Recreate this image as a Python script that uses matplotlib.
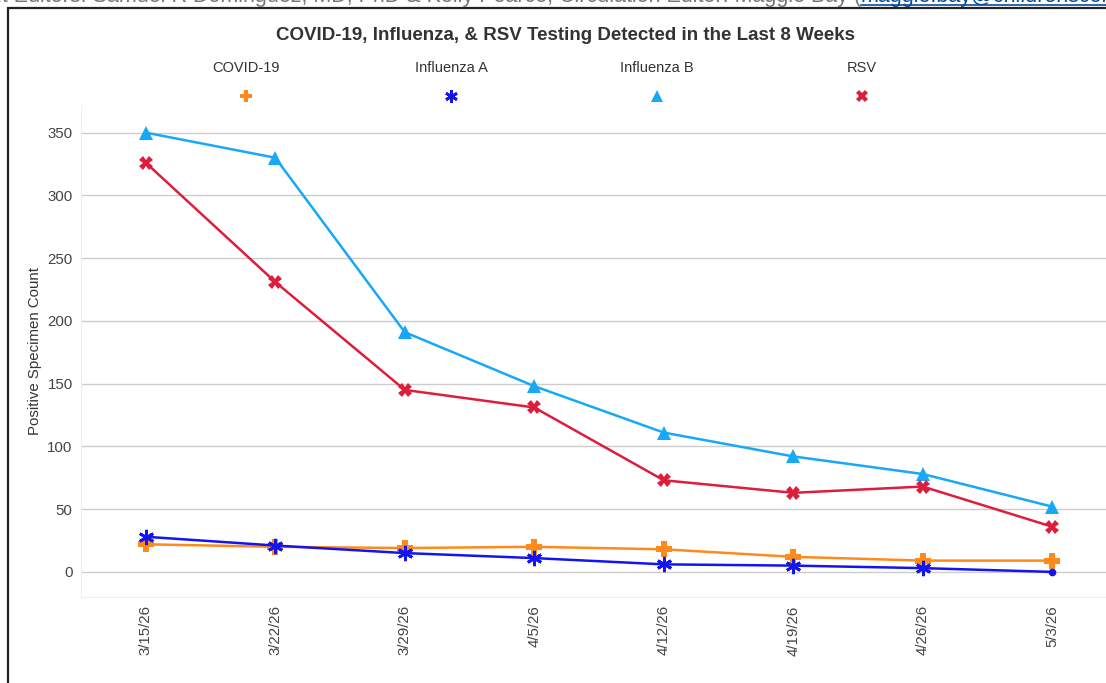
import matplotlib
matplotlib.use("Agg")
import matplotlib.pyplot as plt
from matplotlib.patches import Rectangle

# data
weeks = ["3/15/26", "3/22/26", "3/29/26", "4/5/26", "4/12/26", "4/19/26", "4/26/26", "5/3/26"]
covid = [22, 20, 19, 20, 18, 12, 9, 9]
flu_a = [28, 21, 15, 11, 6, 5, 3, 0]
flu_b = [350, 330, 191, 148, 111, 92, 78, 52]
rsv = [326, 231, 145, 131, 73, 63, 68, 36]

series_names = ["COVID-19", "Influenza A", "Influenza B", "RSV"]
colors = ["#ff8a1c", "#1414f0", "#18a8f5", "#dc1e3c"]
markers = ["P", (6, 2, 0), "^", "X"]

plt.rcParams["font.family"] = ["Liberation Sans", "DejaVu Sans"]

W, H = 1106, 683
fig = plt.figure(figsize=(W / 100, H / 100), dpi=100)

def fx(px):
    return px / W

def fy(py):
    return 1 - py / H

# cut-off header line from the page above the chart
hdr = fig.text(fx(-3), fy(2), "it Editors: Samuel R Dominguez, MD, PhD & Kelly Pearce, Circulation Editor: Maggie Bay (",
               fontsize=15.5, color="#777777", va="baseline", ha="left")
fig.canvas.draw()
bb = hdr.get_window_extent()
link = fig.text(bb.x1 / W, fy(2), "maggie.bay@childrenscolorado.org", fontsize=15.5, color="#0b4a9a",
                va="baseline", ha="left")
fig.lines.append(plt.Line2D([bb.x1 / W, 1.0], [fy(4.5), fy(4.5)], transform=fig.transFigure,
                            color="#0b4a9a", lw=1.2))

# outer frame of the embedded chart
fig.patches.append(Rectangle((fx(8), -0.2), 1.2, fy(8) + 0.2, transform=fig.transFigure,
                             fill=False, edgecolor="#222222", linewidth=1.6))

ax = fig.add_axes([fx(81), fy(597), fx(1117) - fx(81), fy(105) - fy(597)])
x = list(range(len(weeks)))
all_series = [covid, flu_a, flu_b, rsv]
sizes = [11, 11, 10, 10]
for vals, name, c, m, s in zip(all_series, series_names, colors, markers, sizes):
    mew = 2 if m == markers[1] else 0
    if m == markers[1]:
        # last Influenza A point is drawn as a small dot
        ax.plot(x, vals, color=c, lw=1.8, zorder=3)
        ax.plot(x[:-1], vals[:-1], color=c, lw=0, marker=m, markersize=s, markeredgewidth=mew,
                markeredgecolor=c, zorder=4)
        ax.plot(x[-1:], vals[-1:], color=c, lw=0, marker="o", markersize=4.5, zorder=4)
    else:
        ax.plot(x, vals, color=c, lw=1.8, marker=m, markersize=s, markeredgewidth=mew,
                markeredgecolor=c, label=name, zorder=3)

ax.set_xlim(-0.5, 7.5)
ax.set_ylim(-20, 372)
ax.set_yticks(range(0, 351, 50))
ax.set_xticks(x)
ax.set_xticklabels(weeks, rotation=90)
ax.tick_params(axis="both", length=0, labelsize=10.8, colors="#444444")
ax.tick_params(axis="x", pad=6)
ax.tick_params(axis="y", pad=6)
ax.grid(axis="y", color="#cccccc", lw=1)
for side in ["top", "right"]:
    ax.spines[side].set_visible(False)
for side in ["left", "bottom"]:
    ax.spines[side].set_color("#eeeeee")
ax.set_ylabel("Positive Specimen Count", fontsize=10.8, color="#333333", labelpad=4)

fig.text(fx(565), fy(35), "COVID-19, Influenza, & RSV Testing Detected in the Last 8 Weeks",
         fontsize=13.5, fontweight="bold", color="#333333", ha="center", va="center")

# legend: label above marker, spread across the top
leg_x = [246, 451, 657, 862]
for lx, name, c, m, s in zip(leg_x, series_names, colors, markers, sizes):
    fig.text(fx(lx), fy(68), name, fontsize=10.5, color="#333333", ha="center", va="center")
    mew = 2 if m == markers[1] else 0
    fig.lines.append(plt.Line2D([fx(lx)], [fy(96)], transform=fig.transFigure, marker=m,
                                color=c, markersize=s - 2, markeredgewidth=mew, markeredgecolor=c,
                                linestyle="none"))

fig.savefig("out.png", dpi=100)
